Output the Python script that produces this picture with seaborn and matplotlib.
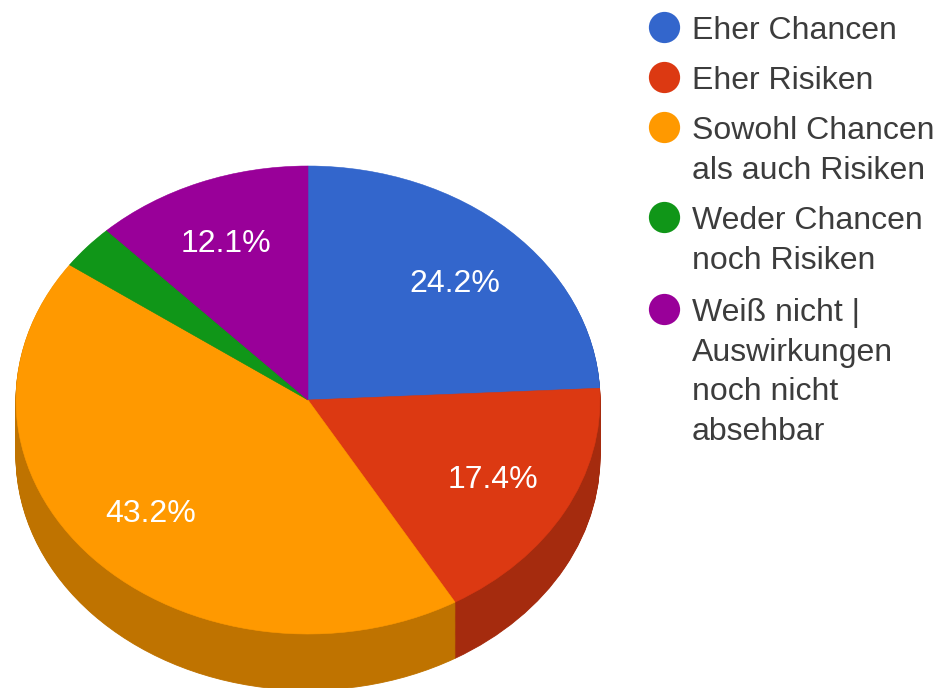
import matplotlib
matplotlib.use("Agg")
import matplotlib.pyplot as plt
import seaborn as sns

labels = ["Eher Chancen", "Eher Risiken", "Sowohl Chancen\nals auch Risiken",
          "Weder Chancen\nnoch Risiken", "Weiß nicht |\nAuswirkungen\nnoch nicht\nabsehbar"]
values = [24.2, 17.4, 43.2, 3.1, 12.1]
colors = ["#3366CC", "#DC3912", "#FF9900", "#109618", "#990099"]
side_colors = ["#264C99", "#A52B0E", "#BF7300", "#0C7012", "#730073"]
legend_rows = [27, 77, 127, 217, 309]  # pixel rows from the top

sns.set_theme(style="white")
plt.rcParams['font.family'] = ['Liberation Sans', 'DejaVu Sans']

fig = plt.figure(figsize=(9.41, 6.88), dpi=100)
ax = fig.add_axes([0, 0, 1, 1])


def pct_label(p):
    return f"{p:.1f}%" if p > 5 else ""


# side of the pie: same slices stacked downward in darker colours
depth = 0.24
steps = 60
for i in range(steps, 0, -1):
    side, _ = ax.pie(values, colors=side_colors, startangle=90, counterclock=False,
                     center=(0, -depth * i / steps))
    for w in side:
        w.set_edgecolor(w.get_facecolor())
        w.set_linewidth(0.6)

wedges, texts, autotexts = ax.pie(values, colors=colors, startangle=90, counterclock=False,
                                  autopct=pct_label, pctdistance=0.72,
                                  textprops={"color": "white", "fontsize": 23})
for w in wedges:
    w.set_edgecolor(w.get_facecolor())
    w.set_linewidth(0.4)

# small nudges of the percent labels, in px
for t, (dx, dy) in zip(autotexts, [(2, -6), (0, 0), (-2, 0), (0, 0), (-4, 0)]):
    x, y = t.get_position()
    t.set_position((x + dx / 292, y + dy / 234))

# squash the pie: x in radii of 292 px, y in radii of 234 px
ax.set_aspect("auto")
ax.set_xlim(-308 / 292, (941 - 308) / 292)
ax.set_ylim(-288 / 234, 400 / 234)
ax.axis("off")

# legend by hand, dot lines up with the first text line
for label, color, row in zip(labels, colors, legend_rows):
    fig.add_artist(plt.Line2D([664 / 941], [1 - row / 688], linestyle="none", marker="o",
                              markersize=22.5, markeredgewidth=0, color=color,
                              transform=fig.transFigure))
    fig.text(692 / 941, 1 - (row - 11) / 688, label, fontsize=23, color="#3c3c3c",
             va="top", ha="left", linespacing=1.42)

fig.savefig("out.png", dpi=100)
